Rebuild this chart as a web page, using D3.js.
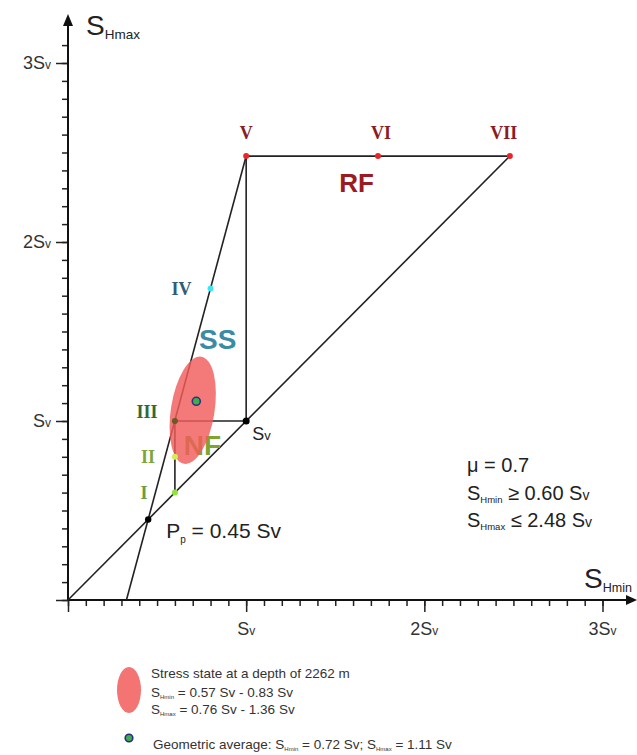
<!DOCTYPE html>
<html><head><meta charset="utf-8">
<script src="https://cdn.jsdelivr.net/npm/d3@7"></script>
<style>
html,body{margin:0;padding:0;background:#fff;}
svg{display:block;font-family:"Liberation Sans",Arial,sans-serif;}
</style></head>
<body>
<svg id="chart" width="637" height="755"></svg>
<script>
// ---------- data ----------
const majorTicks = [0, 1, 2, 3];
const majorTickLabels = ["", "S|v", "2S|v", "3S|v"];
const minorStep = 0.1;
const porePressure = 0.45;          // Pp (in Sv)
const frictionCoef = 0.7;           // mu
const shminLimit = 0.60;
const shmaxLimit = 2.48;
const pointNames  = ["I", "II", "III", "IV", "V", "VI", "VII"];
const pointShmin  = [0.60, 0.60, 0.60, 0.80, 1.00, 1.74, 2.48];
const pointShmax  = [0.60, 0.80, 1.00, 1.74, 2.48, 2.48, 2.48];
const svPoint = [1.0, 1.0];
const steepLineStart = [0.328, 0.0];   // where the frictional limit line meets the axis
const regimeNames = ["RF", "SS", "NF"];
const regimeShmin = [1.62, 0.84, 0.755];
const regimeShmax = [2.28, 1.40, 0.81];
const ellipseShmin = [0.57, 0.83];
const ellipseShmax = [0.76, 1.36];
const geoAverage = [0.72, 1.11];
const depth = 2262;

// ---------- styles ----------
const pointColors = ["#8fe43c", "#d6ec50", "#6b5a24", "#3fe6f2", "#e8262a", "#e8262a", "#e8262a"];
const labelColors = ["#6a9e3a", "#7ea43c", "#2f6a36", "#2c5e7c", "#8b1c26", "#8b1c26", "#8b1c26"];
const labelOffsets = [[-31, 6], [-27, 6], [-28, -3], [-29, 6], [0, -17], [3, -17], [-6, -17]];
const regimeColors = ["#9c1b23", "#3a8ca6", "#7fa52e"];
const regimeSizes = [26, 28, 28];

const svg = d3.select("#chart");
const x = d3.scaleLinear().domain([0, 3]).range([68, 602.5]);
const y = d3.scaleLinear().domain([0, 3]).range([600, 63]);

// helper for mixed-size text
function rich(g, px, py, parts, anchor, color) {
  const t = g.append("text").attr("x", px).attr("y", py)
    .attr("text-anchor", anchor || "start").attr("fill", color || "#222");
  parts.forEach(p => {
    const ts = t.append("tspan").text(p.t).style("font-size", p.s + "px");
    if (p.dy) ts.attr("dy", p.dy);
  });
  return t;
}
function svParts(label, big, small) {
  const [a, b] = label.split("|");
  return [{t: a, s: big}, {t: b, s: small}];
}

// ---------- axes ----------
const xMinor = d3.range(0, 3.0001, minorStep).map(v => +v.toFixed(2));
const yMinor = d3.range(0, 3.1001, minorStep).map(v => +v.toFixed(2));

const gx = svg.append("g").attr("transform", `translate(0,${y(0)})`);
gx.call(d3.axisBottom(x).tickValues(xMinor).tickSize(6).tickFormat(""));
gx.call(g => g.select(".domain").remove());
const gx2 = svg.append("g").attr("transform", `translate(0,${y(0)})`);
gx2.call(d3.axisBottom(x).tickValues(majorTicks).tickSize(12).tickFormat(""));
gx2.call(g => g.select(".domain").remove());

const gy = svg.append("g").attr("transform", `translate(${x(0)},0)`);
gy.call(d3.axisLeft(y).tickValues(yMinor).tickSize(6).tickFormat(""));
gy.call(g => g.select(".domain").remove());
const gy2 = svg.append("g").attr("transform", `translate(${x(0)},0)`);
gy2.call(d3.axisLeft(y).tickValues(majorTicks).tickSize(12).tickFormat(""));
gy2.call(g => g.select(".domain").remove());
svg.selectAll(".tick line").attr("stroke", "#222").attr("stroke-width", 1.5);

// axis lines with arrows
svg.append("line").attr("x1", x(0)).attr("x2", 630).attr("y1", y(0)).attr("y2", y(0))
  .attr("stroke", "#111").attr("stroke-width", 2);
svg.append("path").attr("d", `M637,${y(0)} L626,${y(0) - 5} L626,${y(0) + 5} Z`).attr("fill", "#111");
svg.append("line").attr("x1", x(0)).attr("x2", x(0)).attr("y1", y(0)).attr("y2", 22)
  .attr("stroke", "#111").attr("stroke-width", 2);
svg.append("path").attr("d", `M${x(0)},14 L${x(0) - 5},26 L${x(0) + 5},26 Z`).attr("fill", "#111");

// tick labels
majorTicks.forEach((v, i) => {
  if (!majorTickLabels[i]) return;
  rich(svg, x(v), y(0) + 35, svParts(majorTickLabels[i], 18, 12), "middle", "#333");
  rich(svg, x(0) - 17, y(v) + 6, svParts(majorTickLabels[i], 18, 12), "end", "#333");
});

// axis titles
rich(svg, 86, 35, [{t: "S", s: 28}, {t: "Hmax", s: 13.5, dy: 4}], "start", "#222");
rich(svg, 584, 588, [{t: "S", s: 28}, {t: "Hmin", s: 12.5, dy: 4}], "start", "#222");

// ---------- stress polygon ----------
const lineG = svg.append("g").attr("stroke", "#222").attr("stroke-width", 1.6).attr("fill", "none");
const P = pointNames.map((n, i) => [pointShmin[i], pointShmax[i]]);
const segs = [
  [[0, 0], P[6]],            // diagonal SHmin = SHmax
  [steepLineStart, P[4]],    // frictional limit line
  [P[4], P[6]],              // top line V-VII
  [svPoint, P[4]],           // vertical Sv - V
  [P[2], svPoint],           // III - Sv
  [P[0], P[2]]               // I - III
];
const line = d3.line().x(d => x(d[0])).y(d => y(d[1]));
segs.forEach(s => lineG.append("path").attr("d", line(s)));

// regime labels (under the ellipse)
regimeNames.forEach((n, i) => {
  svg.append("text").attr("x", x(regimeShmin[i])).attr("y", y(regimeShmax[i]))
    .attr("text-anchor", "middle").attr("fill", regimeColors[i])
    .style("font-size", regimeSizes[i] + "px").style("font-weight", "bold").text(n);
});

// ellipse of stress state
const ecx = x((ellipseShmin[0] + ellipseShmin[1]) / 2);
const ecy = y((ellipseShmax[0] + ellipseShmax[1]) / 2);
const halfW = (x(ellipseShmin[1]) - x(ellipseShmin[0])) / 2;
const halfH = (y(ellipseShmax[0]) - y(ellipseShmax[1])) / 2;
const th = 9 * Math.PI / 180;
const ery = Math.sqrt(Math.max(0, (halfH * halfH * Math.cos(th) ** 2 - halfW * halfW * Math.sin(th) ** 2) / (Math.cos(th) ** 4 - Math.sin(th) ** 4)));
const erx = Math.sqrt(Math.max(0, (halfW * halfW - ery * ery * Math.sin(th) ** 2) / (Math.cos(th) ** 2)));
svg.append("ellipse").attr("cx", ecx).attr("cy", ecy).attr("rx", erx).attr("ry", ery)
  .attr("transform", `rotate(9,${ecx},${ecy})`)
  .attr("fill", "#f25b5b").attr("fill-opacity", 0.82);

// geometric average
svg.append("circle").attr("cx", x(geoAverage[0])).attr("cy", y(geoAverage[1])).attr("r", 4)
  .attr("fill", "#3cb04a").attr("stroke", "#3a2a80").attr("stroke-width", 1.6);

// points
svg.append("circle").attr("cx", x(porePressure)).attr("cy", y(porePressure)).attr("r", 3.2).attr("fill", "#000");
svg.append("circle").attr("cx", x(svPoint[0])).attr("cy", y(svPoint[1])).attr("r", 3.5).attr("fill", "#000");
P.forEach((p, i) => {
  svg.append("circle").attr("cx", x(p[0])).attr("cy", y(p[1])).attr("r", 3)
    .attr("fill", pointColors[i]);
  svg.append("text").attr("x", x(p[0]) + labelOffsets[i][0]).attr("y", y(p[1]) + labelOffsets[i][1])
    .attr("text-anchor", "middle").attr("fill", labelColors[i])
    .style("font-family", "'Liberation Serif','Times New Roman',serif")
    .style("font-weight", "bold").style("font-size", "18px").text(pointNames[i]);
});

// annotations
rich(svg, x(svPoint[0]) + 6, y(svPoint[1]) + 19, [{t: "S", s: 18}, {t: "v", s: 13}], "start", "#222");
rich(svg, x(porePressure) + 18, y(porePressure) + 19,
  [{t: "P", s: 21}, {t: "p", s: 10, dy: 5}, {t: " = " + porePressure.toFixed(2) + " Sv", s: 21, dy: -5}], "start", "#222");

rich(svg, 467, 472, [{t: "\u03bc = " + frictionCoef, s: 20}], "start", "#222");
rich(svg, 467, 500, [{t: "S", s: 20}, {t: "Hmin", s: 9.5, dy: 3}, {t: " \u2265 " + shminLimit.toFixed(2) + " S", s: 20, dy: -3}, {t: "v", s: 14}], "start", "#222");
rich(svg, 467, 527, [{t: "S", s: 20}, {t: "Hmax", s: 9.5, dy: 3}, {t: " \u2264 " + shmaxLimit.toFixed(2) + " S", s: 20, dy: -3}, {t: "v", s: 14}], "start", "#222");

// ---------- legend ----------
svg.append("ellipse").attr("cx", 129).attr("cy", 690).attr("rx", 12).attr("ry", 23)
  .attr("fill", "#f47474");
rich(svg, 151, 678, [{t: "Stress state at a depth of " + depth + " m", s: 13.5}], "start", "#333");
rich(svg, 151, 697, [{t: "S", s: 13.5}, {t: "Hmin", s: 6, dy: 2}, {t: "  = " + ellipseShmin[0].toFixed(2) + " Sv - " + ellipseShmin[1].toFixed(2) + " Sv", s: 13.5, dy: -2}], "start", "#333");
rich(svg, 151, 714, [{t: "S", s: 13.5}, {t: "Hmax", s: 6, dy: 2}, {t: " = " + ellipseShmax[0].toFixed(2) + " Sv - " + ellipseShmax[1].toFixed(2) + " Sv", s: 13.5, dy: -2}], "start", "#333");
svg.append("circle").attr("cx", 129).attr("cy", 738).attr("r", 3.8)
  .attr("fill", "#3cb04a").attr("stroke", "#2a2a80").attr("stroke-width", 1.6);
rich(svg, 153, 749, [{t: "Geometric average: S", s: 13.5}, {t: "Hmin", s: 6, dy: 2},
  {t: " = " + geoAverage[0].toFixed(2) + " Sv; S", s: 13.5, dy: -2}, {t: "Hmax", s: 6, dy: 2},
  {t: " = " + geoAverage[1].toFixed(2) + " Sv", s: 13.5, dy: -2}], "start", "#333");
</script>
</body></html>
